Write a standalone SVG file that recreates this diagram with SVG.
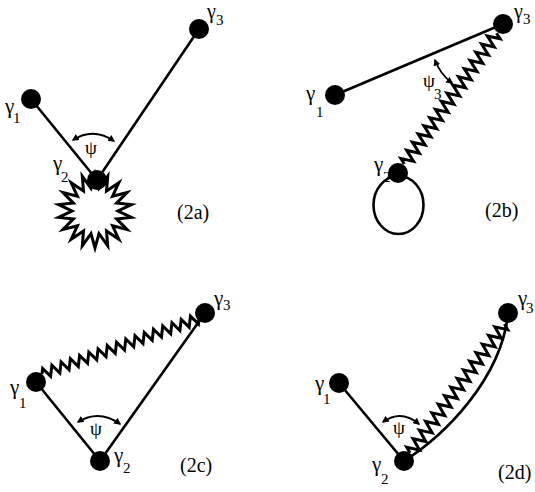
<svg xmlns="http://www.w3.org/2000/svg" width="535" height="492" viewBox="0 0 535 492">
<style>
.ln{fill:none;stroke:#000;stroke-width:2.6;stroke-linejoin:miter}
.sp{fill:none;stroke:#000;stroke-width:3;stroke-linejoin:miter}
.arc{fill:none;stroke:#000;stroke-width:1.8;marker-start:url(#ah);marker-end:url(#ah)}
.nd{fill:#000}
text{font-family:"Liberation Serif","Times New Roman","DejaVu Serif",serif;fill:#000}
.g{font-size:21px}
.s{font-size:15px}
.p{font-size:19px}
.lb{font-size:20px}
</style>
<defs>
<marker id="ah" viewBox="0 0 10 10" refX="8" refY="5" markerWidth="7" markerHeight="7" markerUnits="userSpaceOnUse" orient="auto-start-reverse">
<path d="M0,0 L10,5 L0,10 z" fill="#000"/>
</marker>
</defs>
<g id="connectors">
<!-- 2a -->
<line class="ln" x1="31" y1="99" x2="97" y2="180"/>
<line class="ln" x1="97" y1="180" x2="199" y2="29"/>
<polygon class="ln" style="fill:#fff;stroke-width:3" points="95,174 99,188.4 107.7,176.2 106.5,191.1 118.8,182.7 112.6,196.2 127,192.5 116.6,203.1 131.4,204.6 118,211 131.4,217.4 116.6,218.9 127,229.5 112.6,225.8 118.8,239.3 106.5,230.9 107.7,245.8 99,233.6 95,248 91,233.6 82.3,245.8 83.5,230.9 71.2,239.3 77.4,225.8 63,229.5 73.4,218.9 58.6,217.4 72,211 58.6,204.6 73.4,203.1 63,192.5 77.4,196.2 71.2,182.7 83.5,191.1 82.3,176.2 91,188.4"/>
<path class="arc" d="M73,140 Q93,127 114,141"/>
<!-- 2b -->
<line class="ln" x1="335" y1="95" x2="503" y2="24"/>
<path class="sp" transform="translate(398,173) rotate(-54.8) translate(11,0)" d="M0,0 l2.5,-6 l5,12 l5,-12 l5,12 l5,-12 l5,12 l5,-12 l5,12 l5,-12 l5,12 l5,-12 l5,12 l5,-12 l5,12 l5,-12 l5,12 l5,-12 l5,12 l5,-12 l5,12 l5,-12 l5,12 l5,-12 l5,12 l5,-12 l5,12 l5,-12 l5,12 l5,-12 l5,12 l5,-12 l5,12 l2.5,-6"/>
<ellipse class="ln" cx="398.5" cy="205" rx="25" ry="29"/>
<path class="arc" d="M435,60 Q440,74 452,83"/>
<!-- 2c -->
<line class="ln" x1="36" y1="382" x2="100" y2="461"/>
<line class="ln" x1="100" y1="461" x2="205" y2="313"/>
<path class="sp" transform="translate(42,374) rotate(-19.5)" d="M0,0 l2.45,-5 l4.9,10 l4.9,-10 l4.9,10 l4.9,-10 l4.9,10 l4.9,-10 l4.9,10 l4.9,-10 l4.9,10 l4.9,-10 l4.9,10 l4.9,-10 l4.9,10 l4.9,-10 l4.9,10 l4.9,-10 l4.9,10 l4.9,-10 l4.9,10 l4.9,-10 l4.9,10 l4.9,-10 l4.9,10 l4.9,-10 l4.9,10 l4.9,-10 l4.9,10 l4.9,-10 l4.9,10 l4.9,-10 l4.9,10 l4.9,-10 l4.9,10 l2.45,-5"/>
<path class="arc" d="M78,422 Q99,409 120,424"/>
<!-- 2d -->
<line class="ln" x1="339" y1="383" x2="404" y2="461"/>
<path class="ln" d="M404,461 C445,435 500,380 508,315"/>
<path class="sp" transform="translate(410,453) rotate(-53.8)" d="M0,0 l2.665,-6 l5.33,12 l5.33,-12 l5.33,12 l5.33,-12 l5.33,12 l5.33,-12 l5.33,12 l5.33,-12 l5.33,12 l5.33,-12 l5.33,12 l5.33,-12 l5.33,12 l5.33,-12 l5.33,12 l5.33,-12 l5.33,12 l5.33,-12 l5.33,12 l5.33,-12 l5.33,12 l5.33,-12 l5.33,12 l5.33,-12 l5.33,12 l5.33,-12 l5.33,12 l5.33,-12 l5.33,12 l2.665,-6"/>
<path class="arc" d="M383,422 Q401,409 419,424"/>
</g>
<!-- panel 2a nodes -->
<g id="a-g1"><circle class="nd" cx="31" cy="99" r="10"/><text class="g" x="5" y="113">γ</text><text class="s" x="13" y="123">1</text></g>
<g id="a-g2"><circle class="nd" cx="97" cy="180" r="10"/><text class="g" x="53" y="170">γ</text><text class="s" x="61" y="182">2</text></g>
<g id="a-g3"><circle class="nd" cx="199" cy="29" r="10"/><text class="g" x="207" y="18" style="font-size:20px">γ</text><text class="s" x="216" y="25">3</text></g>
<g id="a-psi"><text class="p" x="85" y="154">ψ</text></g>
<g id="a-label"><text class="lb" x="177" y="219">(2a)</text></g>
<!-- panel 2b nodes -->
<g id="b-g1"><circle class="nd" cx="335" cy="95" r="10"/><text class="g" x="306" y="100">γ</text><text class="s" x="316" y="117">1</text></g>
<g id="b-g2"><circle class="nd" cx="398" cy="173" r="10"/><text class="g" x="374" y="171">γ</text><text class="s" x="383" y="182">2</text></g>
<g id="b-g3"><circle class="nd" cx="503" cy="24" r="10"/><text class="g" x="514" y="18" style="font-size:20px">γ</text><text class="s" x="523" y="24">3</text></g>
<g id="b-psi"><text class="p" x="423" y="87">ψ</text><text class="s" x="434" y="99">3</text></g>
<g id="b-label"><text class="lb" x="485" y="217">(2b)</text></g>
<!-- panel 2c nodes -->
<g id="c-g1"><circle class="nd" cx="36" cy="382" r="10"/><text class="g" x="10" y="394">γ</text><text class="s" x="19" y="408">1</text></g>
<g id="c-g2"><circle class="nd" cx="100" cy="461" r="10"/><text class="g" x="114" y="462">γ</text><text class="s" x="123" y="473">2</text></g>
<g id="c-g3"><circle class="nd" cx="205" cy="313" r="10"/><text class="g" x="214" y="305">γ</text><text class="s" x="223" y="310">3</text></g>
<g id="c-psi"><text class="p" x="90" y="435">ψ</text></g>
<g id="c-label"><text class="lb" x="180" y="472">(2c)</text></g>
<!-- panel 2d nodes -->
<g id="d-g1"><circle class="nd" cx="339" cy="383" r="10"/><text class="g" x="315" y="390">γ</text><text class="s" x="323" y="404">1</text></g>
<g id="d-g2"><circle class="nd" cx="404" cy="461" r="10"/><text class="g" x="372" y="471">γ</text><text class="s" x="381" y="484">2</text></g>
<g id="d-g3"><circle class="nd" cx="508" cy="313" r="10"/><text class="g" x="518" y="305">γ</text><text class="s" x="526" y="313">3</text></g>
<g id="d-psi"><text class="p" x="393" y="434">ψ</text></g>
<g id="d-label"><text class="lb" x="498" y="479">(2d)</text></g>
</svg>
